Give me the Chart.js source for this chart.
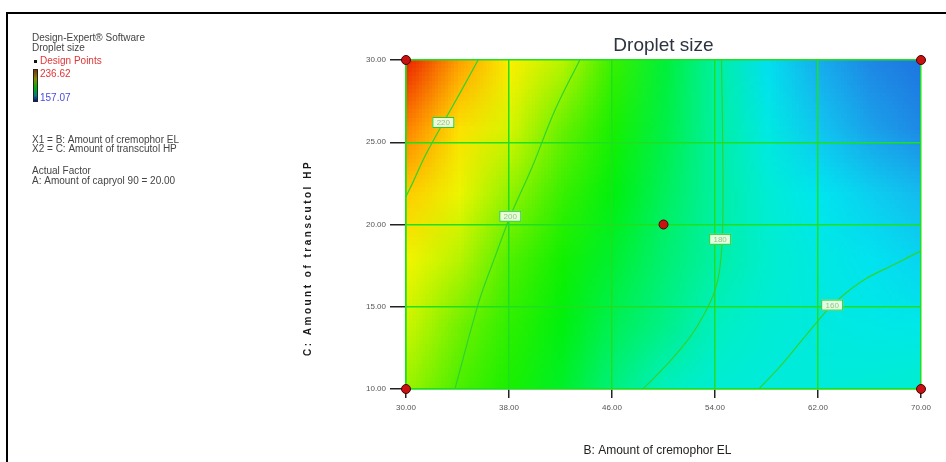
<!DOCTYPE html>
<html>
<head>
<meta charset="utf-8">
<script src="https://cdn.jsdelivr.net/npm/chart.js@4.4.0/dist/chart.umd.min.js"></script>
<style>
  html, body { margin: 0; padding: 0; background: #fff; }
  #wrap { width: 946px; height: 462px; position: relative; }
</style>
</head>
<body>
<div id="wrap"><canvas id="dropletChart" width="946" height="462"></canvas></div>
<script>
const xNodes = [30, 34, 38, 42, 46, 50, 54, 58, 62, 66, 70];
const yNodes = [30, 26, 22, 18, 14, 10];
const dropletSize = [
    [236.6, 225.0, 215.0, 206.0, 197.0, 188.0, 180.5, 171.0, 164.0, 159.5, 157.0],
    [228.0, 218.0, 209.0, 201.0, 194.0, 187.0, 180.5, 174.0, 167.0, 162.5, 159.5],
    [221.0, 212.0, 203.5, 197.0, 191.0, 185.5, 180.5, 176.0, 172.0, 168.5, 165.5],
    [213.0, 206.0, 199.0, 193.5, 188.5, 184.0, 180.3, 177.0, 174.0, 171.5, 169.5],
    [207.5, 201.5, 196.0, 191.0, 186.0, 182.5, 178.5, 176.0, 174.5, 173.5, 173.0],
    [204.0, 198.5, 194.0, 189.0, 183.0, 178.5, 176.0, 175.0, 175.5, 176.0, 177.0]
];

// contour lines (B, C)
const contour220 = [{x: 35.6, y: 30}, {x: 34.2, y: 28}, {x: 32.9, y: 26.2}, {x: 31.5, y: 24.2}, {x: 30.5, y: 22.5}, {x: 30, y: 21.7}];
const contour200 = [{x: 43.5, y: 30}, {x: 41.6, y: 27}, {x: 39.8, y: 23.5}, {x: 38.1, y: 20.5}, {x: 36.9, y: 18}, {x: 35.7, y: 15.4}, {x: 33.8, y: 10}];
const contour180 = [{x: 54.5, y: 30}, {x: 54.6, y: 25}, {x: 54.6, y: 20}, {x: 54.4, y: 17.5}, {x: 54.0, y: 16}, {x: 53.2, y: 14.6}, {x: 52.1, y: 13.2}, {x: 50.4, y: 11.6}, {x: 48.4, y: 10}];
const contour160 = [{x: 57.4, y: 10}, {x: 59.2, y: 11.5}, {x: 61.0, y: 13.2}, {x: 63.1, y: 15.1}, {x: 65.5, y: 16.6}, {x: 68, y: 17.6}, {x: 70, y: 18.4}];
const contourLabels = [
    {text: "220", x: 32.9, y: 26.2},
    {text: "200", x: 38.1, y: 20.5},
    {text: "180", x: 54.4, y: 19.1},
    {text: "160", x: 63.1, y: 15.1}
];

const designPoints = [{x: 30, y: 10}, {x: 30, y: 30}, {x: 70, y: 10}, {x: 70, y: 30}, {x: 50, y: 20}];
const xTicks = [30, 38, 46, 54, 62, 70];
const yTicks = [10, 15, 20, 25, 30];
const rangeHigh = 236.62;
const rangeLow = 157.07;

const GREEN = "#1ee01e";

// rainbow colour map (value -> rgb)
const colorStops = [
    [156, [30, 110, 222]],
    [160, [30, 140, 230]],
    [166, [20, 190, 240]],
    [172, [0, 230, 240]],
    [178, [0, 240, 200]],
    [185, [0, 240, 100]],
    [192, [0, 240, 0]],
    [200, [90, 240, 0]],
    [207, [200, 245, 0]],
    [214, [250, 245, 0]],
    [220, [255, 215, 0]],
    [226, [255, 150, 0]],
    [231, [255, 100, 0]],
    [237, [235, 35, 0]]
];

function colorFor(v) {
    if (v <= colorStops[0][0]) return colorStops[0][1];
    for (let i = 1; i < colorStops.length; i++) {
        const [v1, c1] = colorStops[i];
        if (v <= v1) {
            const [v0, c0] = colorStops[i - 1];
            const t = (v - v0) / (v1 - v0);
            return c0.map((c, k) => Math.round(c + (c1[k] - c) * t));
        }
    }
    return colorStops[colorStops.length - 1][1];
}

const surfacePlugin = {
    id: "surface",
    beforeDraw(chart) {
        const ctx = chart.ctx;
        const area = chart.chartArea;
        const xs = chart.scales.x;
        const ys = chart.scales.y;

        ctx.save();
        ctx.fillStyle = "#fff";
        ctx.fillRect(0, 0, chart.width, chart.height);

        // frame
        ctx.strokeStyle = "#000";
        ctx.lineWidth = 2;
        ctx.beginPath();
        ctx.moveTo(7, 462);
        ctx.lineTo(7, 13);
        ctx.lineTo(946, 13);
        ctx.stroke();

        // side notes
        ctx.font = "10px Arial";
        ctx.textBaseline = "middle";
        ctx.fillStyle = "#444";
        ctx.fillText("Design-Expert\u00ae Software", 32, 38);
        ctx.fillText("Droplet size", 32, 48);
        ctx.fillStyle = "#111";
        ctx.fillRect(34, 60, 3, 3);
        ctx.fillStyle = "#e03535";
        ctx.fillText("Design Points", 40, 61);
        const bar = ctx.createLinearGradient(0, 69, 0, 102);
        bar.addColorStop(0, "#7a2a00");
        bar.addColorStop(0.3, "#8a8a00");
        bar.addColorStop(0.55, "#00b000");
        bar.addColorStop(0.8, "#008080");
        bar.addColorStop(1, "#000090");
        ctx.fillStyle = bar;
        ctx.fillRect(33, 69, 5, 33);
        ctx.strokeStyle = "#222";
        ctx.lineWidth = 1;
        ctx.strokeRect(33.5, 69.5, 4, 32);
        ctx.fillStyle = "#e03535";
        ctx.fillText(rangeHigh.toFixed(2), 40, 74);
        ctx.fillStyle = "#4a4ae0";
        ctx.fillText(rangeLow.toFixed(2), 40, 98);
        ctx.fillStyle = "#444";
        ctx.fillText("X1 = B: Amount of cremophor EL", 32, 140);
        ctx.fillText("X2 = C: Amount of transcutol HP", 32, 149);
        ctx.fillText("Actual Factor", 32, 171);
        ctx.fillText("A: Amount of capryol 90 = 20.00", 32, 181);

        // response surface
        const nx = xNodes.length, ny = yNodes.length;
        const off = document.createElement("canvas");
        off.width = nx;
        off.height = ny;
        const octx = off.getContext("2d");
        const img = octx.createImageData(nx, ny);
        for (let j = 0; j < ny; j++) {
            for (let i = 0; i < nx; i++) {
                const c = colorFor(dropletSize[j][i]);
                const k = (j * nx + i) * 4;
                img.data[k] = c[0];
                img.data[k + 1] = c[1];
                img.data[k + 2] = c[2];
                img.data[k + 3] = 255;
            }
        }
        octx.putImageData(img, 0, 0);
        const x0 = xs.getPixelForValue(xNodes[0]);
        const dx = (xs.getPixelForValue(xNodes[nx - 1]) - x0) / (nx - 1);
        const y0 = ys.getPixelForValue(yNodes[0]);
        const dy = (ys.getPixelForValue(yNodes[ny - 1]) - y0) / (ny - 1);
        ctx.beginPath();
        ctx.rect(area.left, area.top, area.right - area.left, area.bottom - area.top);
        ctx.clip();
        ctx.imageSmoothingEnabled = true;
        ctx.drawImage(off, x0 - dx / 2, y0 - dy / 2, dx * nx, dy * ny);
        ctx.restore();
    },
    afterDatasetsDraw(chart) {
        const ctx = chart.ctx;
        const xs = chart.scales.x;
        const ys = chart.scales.y;
        ctx.save();
        ctx.font = "8px Arial";
        ctx.textAlign = "center";
        ctx.textBaseline = "middle";
        contourLabels.forEach(l => {
            const px = xs.getPixelForValue(l.x);
            const py = ys.getPixelForValue(l.y);
            ctx.fillStyle = "rgba(236,255,228,0.95)";
            ctx.fillRect(px - 11, py - 5.5, 22, 11);
            ctx.strokeStyle = "#2bc82b";
            ctx.lineWidth = 1;
            ctx.strokeRect(px - 10.5, py - 5, 21, 10);
            ctx.fillStyle = "#9bbf8b";
            ctx.fillText(l.text, px, py + 0.5);
        });
        ctx.restore();
    },
    afterDraw(chart) {
        const ctx = chart.ctx;
        const area = chart.chartArea;
        const cx = (area.left + area.right) / 2;
        ctx.save();
        ctx.fillStyle = "#2d3340";
        ctx.font = "19px Arial";
        ctx.textAlign = "center";
        ctx.textBaseline = "middle";
        ctx.fillText("Droplet size", cx, 46);

        ctx.fillStyle = "#222";
        ctx.font = "12px Arial";
        ctx.fillText("B: Amount of cremophor EL", cx - 6, 451);

        ctx.translate(308, 258);
        ctx.rotate(-Math.PI / 2);
        ctx.font = "bold 10px Arial";
        ctx.letterSpacing = "2.5px";
        ctx.fillStyle = "#1a1a1a";
        ctx.fillText("C: Amount of transcutol HP", 0, 0);
        ctx.restore();
    }
};

function contourSet(points) {
    return {
        type: "line",
        data: points,
        borderColor: "#2ed42e",
        borderWidth: 1.2,
        pointRadius: 0,
        tension: 0.35,
        fill: false
    };
}

const chart = new Chart(document.getElementById("dropletChart"), {
    type: "scatter",
    data: {
        datasets: [
            {
                data: designPoints,
                pointStyle: "circle",
                pointRadius: 4.5,
                backgroundColor: "#c81212",
                borderColor: "#4a0000",
                borderWidth: 1,
                clip: false
            },
            contourSet(contour220),
            contourSet(contour200),
            contourSet(contour180),
            contourSet(contour160)
        ]
    },
    options: {
        responsive: false,
        animation: false,
        layout: { padding: { left: 356, right: 25, top: 60, bottom: 13 } },
        plugins: {
            legend: { display: false },
            tooltip: { enabled: false },
            title: { display: false }
        },
        scales: {
            x: {
                type: "linear",
                min: 30,
                max: 70,
                afterBuildTicks: scale => { scale.ticks = xTicks.map(v => ({ value: v })); },
                afterFit: scale => { scale.height = 60; },
                ticks: {
                    color: "#555",
                    font: { family: "Arial", size: 8 },
                    padding: 5,
                    maxRotation: 0,
                    callback: v => v.toFixed(2)
                },
                grid: { color: GREEN, lineWidth: 1.5, tickColor: "#222", tickLength: 9, tickWidth: 1.5 },
                border: { display: true, color: GREEN, width: 1.5 }
            },
            y: {
                type: "linear",
                min: 10,
                max: 30,
                afterBuildTicks: scale => { scale.ticks = yTicks.map(v => ({ value: v })); },
                afterFit: scale => { scale.width = 50; },
                ticks: {
                    color: "#555",
                    font: { family: "Arial", size: 8 },
                    padding: 4,
                    callback: v => v.toFixed(2)
                },
                grid: { color: GREEN, lineWidth: 1.5, tickColor: "#222", tickLength: 16, tickWidth: 1.5 },
                border: { display: true, color: GREEN, width: 1.5 }
            }
        }
    },
    plugins: [surfacePlugin]
});
</script>
</body>
</html>
